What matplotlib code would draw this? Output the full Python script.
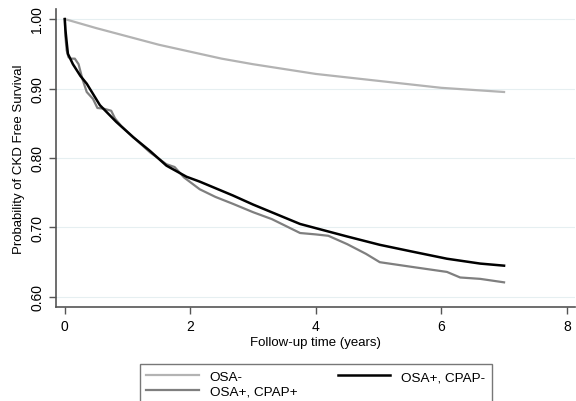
import matplotlib
matplotlib.use("Agg")
import matplotlib.pyplot as plt

# Kaplan-Meier style curves
osa_neg_t = [0, 0.5, 1.0, 1.5, 2.0, 2.5, 3.0, 3.5, 4.0, 4.5, 5.0, 5.5, 6.0, 6.5, 7.0]
osa_neg_s = [1.000, 0.987, 0.975, 0.963, 0.953, 0.943, 0.935, 0.928, 0.921, 0.916, 0.911, 0.906, 0.901, 0.898, 0.895]

cpap_neg_t = [0, 0.01, 0.03, 0.05, 0.13, 0.25, 0.35, 0.56, 0.82, 1.09, 1.36, 1.62, 1.94,
              2.15, 2.68, 3.0, 3.75, 4.0, 4.5, 5.02, 5.55, 6.09, 6.62, 7.0]
cpap_neg_s = [1.000, 0.985, 0.967, 0.950, 0.935, 0.918, 0.907, 0.876, 0.852, 0.830, 0.810,
              0.789, 0.773, 0.766, 0.746, 0.733, 0.705, 0.699, 0.687, 0.675, 0.665, 0.655, 0.648, 0.645]

cpap_pos_t = [0, 0.01, 0.03, 0.06, 0.1, 0.16, 0.22, 0.28, 0.35, 0.45, 0.52, 0.62, 0.74, 0.8,
              0.9, 1.09, 1.36, 1.62, 1.75, 1.9, 2.15, 2.4, 2.68, 3.0, 3.3, 3.75, 4.0, 4.2,
              4.5, 4.8, 5.02, 5.55, 6.09, 6.3, 6.62, 7.0]
cpap_pos_s = [1.000, 0.975, 0.955, 0.945, 0.943, 0.943, 0.935, 0.914, 0.895, 0.885, 0.872,
              0.871, 0.868, 0.857, 0.846, 0.830, 0.808, 0.791, 0.787, 0.772, 0.755, 0.744,
              0.734, 0.722, 0.712, 0.692, 0.690, 0.688, 0.676, 0.662, 0.650, 0.643, 0.636,
              0.628, 0.626, 0.621]

yticks = [0.60, 0.70, 0.80, 0.90, 1.00]
xticks = [0, 2, 4, 6, 8]

plt.rcParams["font.family"] = ["Liberation Sans", "DejaVu Sans"]

fig = plt.figure(figsize=(5.76, 4.02), dpi=100)
ax = fig.add_axes([0.0972, 0.234, 0.901, 0.741])

ax.plot(osa_neg_t, osa_neg_s, color="#b3b3b3", lw=1.6, label="OSA-")
ax.plot(cpap_pos_t, cpap_pos_s, color="#7f7f7f", lw=1.6, label="OSA+, CPAP+")
ax.plot(cpap_neg_t, cpap_neg_s, color="black", lw=1.8, label="OSA+, CPAP-")

ax.set_xlim(-0.14, 8.13)
ax.set_ylim(0.5856, 1.0144)
ax.set_xticks(xticks)
ax.set_yticks(yticks)
ax.set_yticklabels([f"{v:.2f}" for v in yticks], rotation=90, va="center")
ax.grid(axis="y", color="#e6eff1", lw=0.8)
ax.set_axisbelow(True)

for s in ("top", "right"):
    ax.spines[s].set_visible(False)
for s in ("left", "bottom"):
    ax.spines[s].set_color("#555555")
    ax.spines[s].set_linewidth(1.2)
ax.tick_params(direction="out", length=5, width=1, color="#555555", labelsize=10)

ax.set_xlabel("Follow-up time (years)", fontsize=9.5, labelpad=2)
ax.set_ylabel("Probability of CKD Free Survival", fontsize=9.5, labelpad=4)

fig.legend(loc="upper center", bbox_to_anchor=(0.548, 0.092), ncol=2, fontsize=9.7,
           frameon=True, fancybox=False, edgecolor="#555555", handlelength=3.9,
           handletextpad=0.8, columnspacing=3.0, borderpad=0.5, labelspacing=0.15,
           borderaxespad=0)

fig.savefig("out.png", dpi=100)
